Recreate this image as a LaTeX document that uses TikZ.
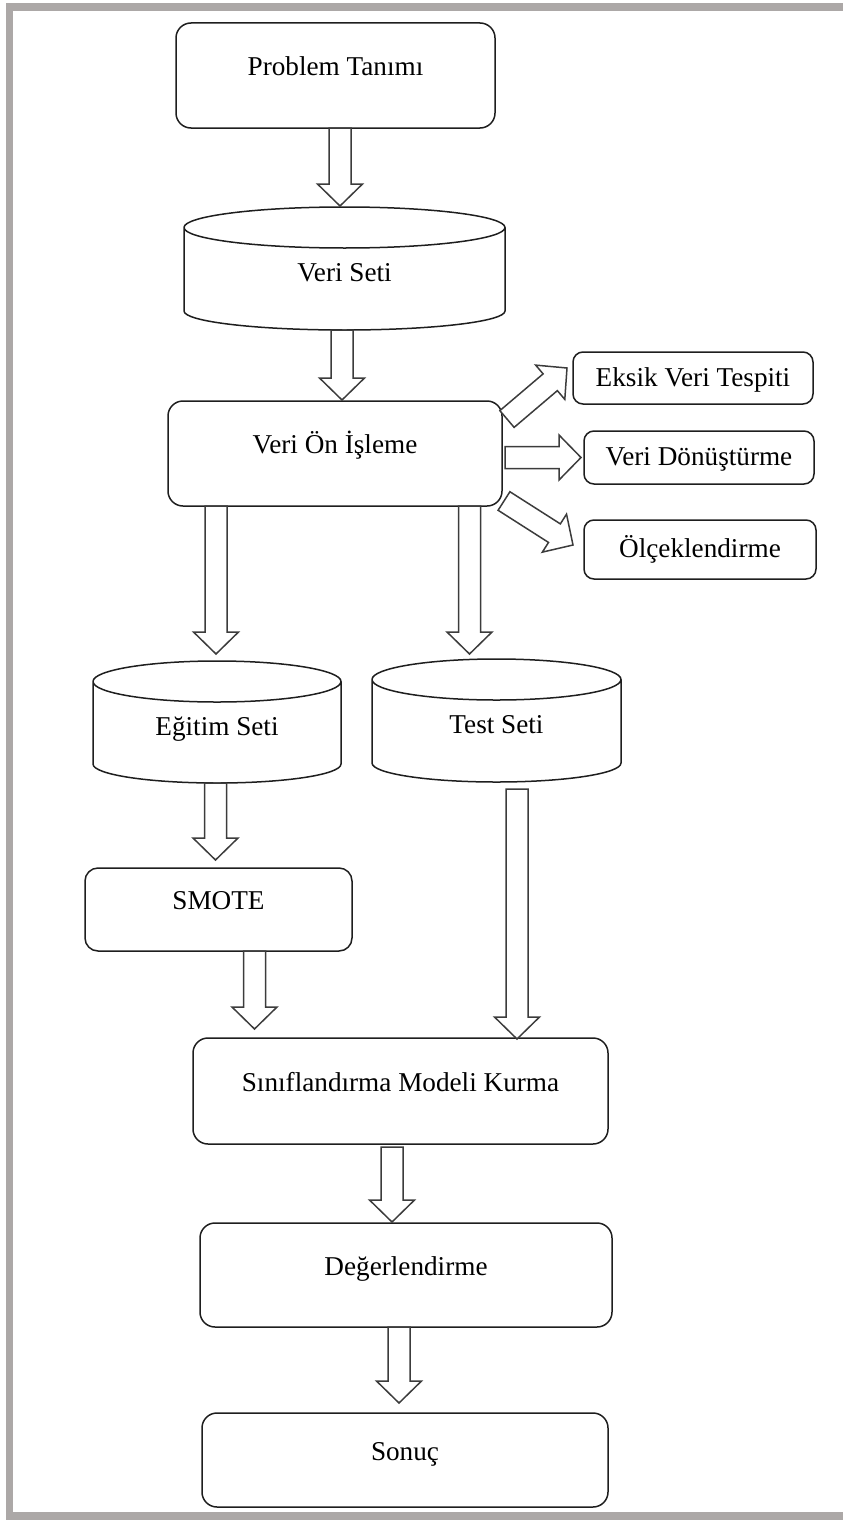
\documentclass[tikz,border=0pt]{standalone}
\usepackage{fontspec}
\setmainfont{Liberation Serif}
\usetikzlibrary{calc}

\definecolor{framegray}{RGB}{172,168,167}
\definecolor{boxline}{RGB}{30,30,30}
\definecolor{arrowline}{RGB}{60,60,60}

% block arrow geometry (half shaft width, half head width, head length)
\newcommand\arrShaft{11pt}
\newcommand\arrHead{22.5pt}
\newcommand\arrLen{22pt}

% hollow block arrow from #1 to #2
\newcommand\blockarrow[2]{%
  \draw[blockarr] let \p1=#1, \p2=#2,
    \n1={scalar(atan2(\y2-\y1,\x2-\x1))},
    \n2={veclen(\x2-\x1,\y2-\y1)-\arrLen},
    \n3={\n1+90}, \n4={\n1-90} in
    ($(\p1)+(\n3:\arrShaft)$)
    -- ($(\p1)+(\n1:\n2)+(\n3:\arrShaft)$)
    -- ($(\p1)+(\n1:\n2)+(\n3:\arrHead)$)
    -- (\p2)
    -- ($(\p1)+(\n1:\n2)+(\n4:\arrHead)$)
    -- ($(\p1)+(\n1:\n2)+(\n4:\arrShaft)$)
    -- ($(\p1)+(\n4:\arrShaft)$) -- cycle;
}

% database cylinder outline around node #1 (top radius #2, bottom radius #3)
\newcommand\drawcyl[3]{%
  \draw[cylline] let \p1=(#1.north west), \p2=(#1.south east), \n1={(\x2-\x1)/2} in
    (\x1,\y1-#2pt) -- (\x1,\y2+#3pt)
    arc[start angle=180, end angle=360, x radius=\n1, y radius=#3pt]
    -- (\x2,\y1-#2pt)
    arc[start angle=0, end angle=180, x radius=\n1, y radius=#2pt]
    (\x1,\y1-#2pt) arc[start angle=180, end angle=360, x radius=\n1, y radius=#2pt];
}

\begin{document}
\begin{tikzpicture}[x=1pt,y=1pt,
  every node/.style={font=\fontsize{27.2}{32}\selectfont, inner sep=0pt, outer sep=0pt},
  bigbox/.style={draw=boxline, line width=1.5pt, rounded corners=15pt,
    text height=20pt, text depth=20pt},
  smallbox/.style={draw=boxline, line width=1.5pt, rounded corners=10pt,
    text height=20pt, text depth=4pt},
  cylbox/.style={text height=26pt, text depth=0pt},
  cylline/.style={draw=boxline, line width=1.5pt},
  blockarr/.style={draw=arrowline, fill=white, line width=1.5pt, line join=miter}]

\useasboundingbox (0,0) rectangle (843,-1520);

% frame
\fill[framegray] (6,-3) rectangle (13,-1520);
\fill[framegray] (6,-3) rectangle (843,-11);
\fill[framegray] (6,-1512) rectangle (843,-1520);

% process boxes
\node[bigbox, minimum width=319pt, minimum height=105pt] (prob) at (335.5,-75.5) {Problem Tanımı};
\node[cylbox, minimum width=321pt, minimum height=123pt] (vs) at (344.5,-268.5) {Veri Seti};
\node[bigbox, minimum width=334pt, minimum height=105pt] (voi) at (335,-453.5) {Veri Ön İşleme};
\node[smallbox, minimum width=240pt, minimum height=52pt] (eks) at (693,-378) {Eksik Veri Tespiti};
\node[smallbox, minimum width=230pt, minimum height=53pt] (vd) at (699,-457.5) {Veri Dönüştürme};
\node[smallbox, minimum width=232pt, minimum height=59pt] (olc) at (700,-549.5) {Ölçeklendirme};
\node[cylbox, minimum width=248pt, minimum height=122pt] (egt) at (217,-722) {Eğitim Seti};
\node[cylbox, minimum width=249pt, minimum height=123pt] (tst) at (496.5,-720.5) {Test Seti};
\node[bigbox, rounded corners=13pt, minimum width=267pt, minimum height=83pt] (smote) at (218.5,-909.5) {SMOTE};
\node[bigbox, minimum width=415pt, minimum height=106pt] (sin) at (400.5,-1091) {Sınıflandırma Modeli Kurma};
\node[bigbox, minimum width=412pt, minimum height=104pt] (deg) at (406,-1275) {Değerlendirme};
\node[bigbox, minimum width=406pt, minimum height=94pt] (son) at (405,-1460) {Sonuç};

% data sets
\drawcyl{vs}{20.5}{19}
\drawcyl{egt}{20.5}{19}
\drawcyl{tst}{20.5}{19}

% arrow end points
\coordinate (a1s) at ($(prob.south)+(4.5,0)$);
\coordinate (a1e) at ($(vs.north)+(-4.5,1)$);
\coordinate (a2s) at ($(vs.south)+(-2.5,0)$);
\coordinate (a2e) at ($(voi.north)+(7,1)$);
\coordinate (a3s) at ($(voi.south)+(-119,0)$);
\coordinate (a3e) at ($(egt.north)+(-1,7)$);
\coordinate (a4s) at ($(voi.south)+(134.5,0)$);
\coordinate (a4e) at ($(tst.north)+(-27,5)$);
\coordinate (a5s) at ($(egt.south)+(-1.5,0)$);
\coordinate (a5e) at ($(smote.north)+(-3,8)$);
\coordinate (a6s) at ($(smote.south)+(36,0)$);
\coordinate (a6e) at ($(sin.north)+(-146,9)$);
\coordinate (a7s) at ($(tst.south)+(20.5,-7)$);
\coordinate (a7e) at ($(sin.north)+(116.5,-1)$);
\coordinate (a8s) at ($(sin.south)+(-8.5,-3)$);
\coordinate (a8e) at ($(deg.north)+(-14,1)$);
\coordinate (a9s) at ($(deg.south)+(-7,0)$);
\coordinate (a9e) at ($(son.north)+(-6,10)$);
\coordinate (r1s) at ($(voi.north east)+(5,-18)$);
\coordinate (r1e) at ($(eks.west)+(-6,10)$);
\coordinate (r2s) at ($(voi.east)+(3,-4)$);
\coordinate (r2e) at ($(vd.west)+(-3,0)$);
\coordinate (r3s) at ($(voi.south east)+(2,5)$);
\coordinate (r3e) at ($(olc.west)+(-11,4.5)$);

% flow arrows
\blockarrow{(a1s)}{(a1e)}
\blockarrow{(a2s)}{(a2e)}
\blockarrow{(a3s)}{(a3e)}
\blockarrow{(a4s)}{(a4e)}
\blockarrow{(a5s)}{(a5e)}
\blockarrow{(a6s)}{(a6e)}
\blockarrow{(a7s)}{(a7e)}
\blockarrow{(a8s)}{(a8e)}
\blockarrow{(a9s)}{(a9e)}
\blockarrow{(r1s)}{(r1e)}
\blockarrow{(r2s)}{(r2e)}
\blockarrow{(r3s)}{(r3e)}

\end{tikzpicture}
\end{document}
